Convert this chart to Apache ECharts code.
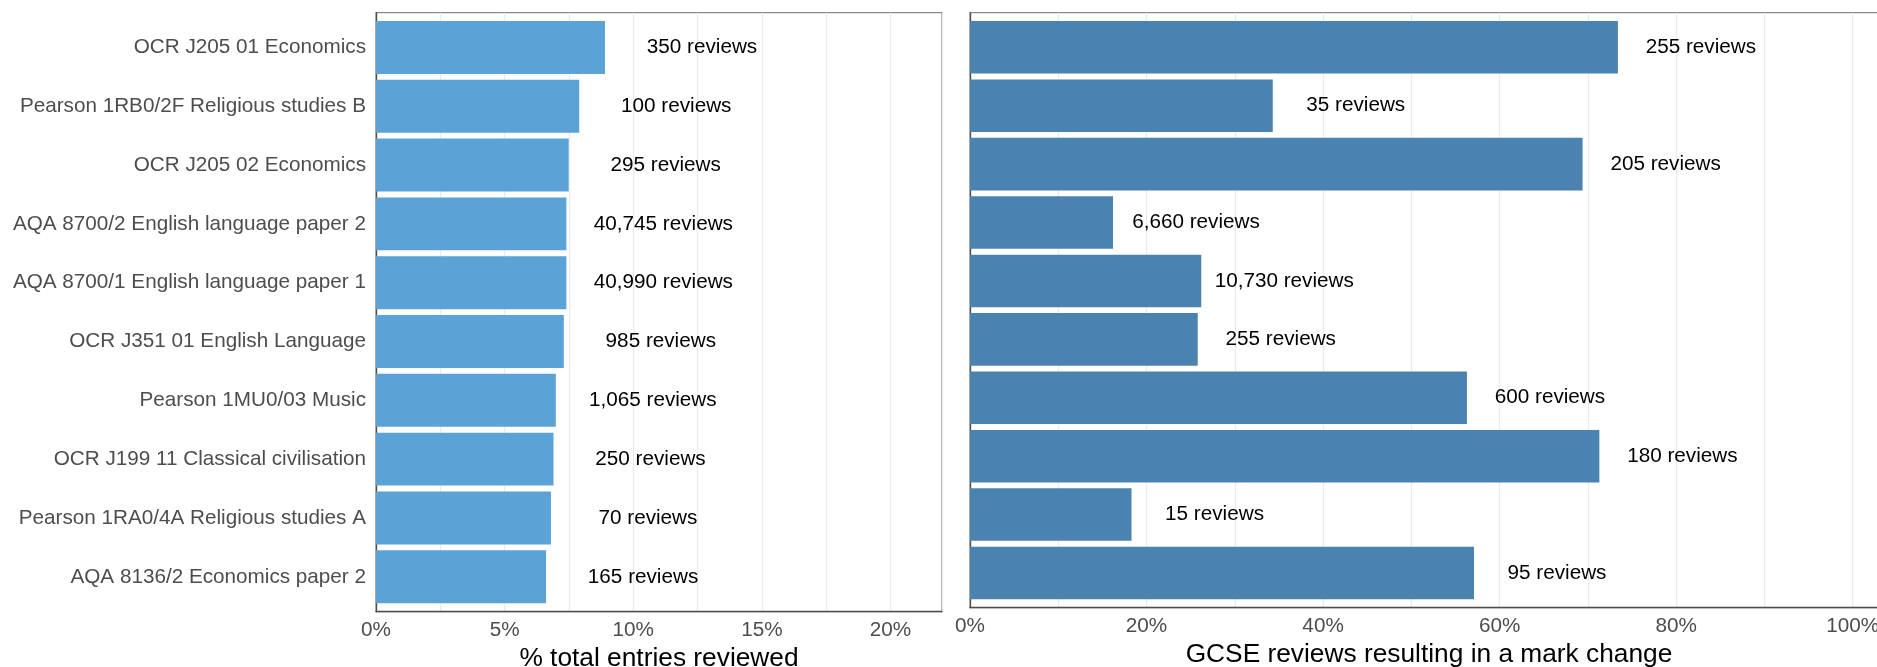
<!DOCTYPE html>
<html>
<head>
<meta charset="utf-8">
<script src="https://cdn.jsdelivr.net/npm/echarts@6/dist/echarts.min.js"></script>
<style>
html,body{margin:0;padding:0;background:#fff;}
#chart{width:1877px;height:667px;}
</style>
</head>
<body>
<div id="chart"></div>
<script>
const categories = [
  'OCR J205 01 Economics',
  'Pearson 1RB0/2F Religious studies B',
  'OCR J205 02 Economics',
  'AQA 8700/2 English language paper 2',
  'AQA 8700/1 English language paper 1',
  'OCR J351 01 English Language',
  'Pearson 1MU0/03 Music',
  'OCR J199 11 Classical civilisation',
  'Pearson 1RA0/4A Religious studies A',
  'AQA 8136/2 Economics paper 2'
];
const pctReviewed = [0.089, 0.079, 0.0749, 0.0740, 0.0740, 0.0730, 0.0699, 0.0690, 0.0680, 0.0661];
const reviewsTotal = [350, 100, 295, 40745, 40990, 985, 1065, 250, 70, 165];
const pctChanged = [0.734, 0.343, 0.694, 0.162, 0.262, 0.258, 0.563, 0.713, 0.183, 0.571];
const reviewsChanged = [255, 35, 205, 6660, 10730, 255, 600, 180, 15, 95];

const FONT = "'Liberation Sans', Helvetica, Arial, sans-serif";
const GREY_TXT = '#4d4d4d';
const FS = 20.7;
const fmtN = n => n.toLocaleString('en-US') + ' reviews';

const chart = echarts.init(document.getElementById('chart'), null, {renderer: 'canvas'});

function frameX(gridIndex, max, step, labelEvery, name) {
  return {
    type: 'value', gridIndex: gridIndex, min: 0, max: max, interval: step,
    axisLine: {show: true, lineStyle: {color: '#4d4d4d', width: 1.3}},
    axisTick: {show: false},
    splitLine: {show: true, lineStyle: {color: '#ebebeb', width: 1.3}},
    axisLabel: {
      show: true, margin: 8, color: GREY_TXT, fontSize: FS, fontFamily: FONT,
      showMaxLabel: false,
      formatter: v => {
        const k = Math.round(v * 1000);
        return (k % Math.round(labelEvery * 1000) === 0) ? Math.round(v * 100) + '%' : '';
      }
    },
    name: name, nameLocation: 'middle', nameGap: 31,
    nameTextStyle: {color: '#000', fontSize: 26.3, fontFamily: FONT}
  };
}
function frameY(gridIndex) {
  return {
    type: 'value', gridIndex: gridIndex, min: 0, max: 1,
    axisLine: {show: true, lineStyle: {color: '#4d4d4d', width: 1.3}},
    axisTick: {show: false}, axisLabel: {show: false}, splitLine: {show: false}
  };
}
function barX(gridIndex, max) {
  return {type: 'value', gridIndex: gridIndex, min: 0, max: max, show: false,
          splitLine: {show: false}};
}
function barY(gridIndex, showLabels) {
  return {
    type: 'category', gridIndex: gridIndex, data: categories, inverse: true,
    axisLine: {show: false}, axisTick: {show: false}, splitLine: {show: false},
    axisLabel: {show: showLabels, margin: 10, color: GREY_TXT, fontSize: FS, fontFamily: FONT}
  };
}

const RMAX = 1.04;
const option = {
  animation: false,
  backgroundColor: '#fff',
  grid: [
    {left: 376, width: 566, top: 12.7, height: 599, show: true, outerBoundsMode: 'none', containLabel: false,
     borderColor: '#8a8a8a', borderWidth: 1.3, backgroundColor: 'transparent'},
    {left: 970, width: 918, top: 12.7, height: 595, show: true, outerBoundsMode: 'none', containLabel: false,
     borderColor: '#8a8a8a', borderWidth: 1.3, backgroundColor: 'transparent'},
    {left: 376, width: 566, top: 18, height: 588.2, outerBoundsMode: 'none', containLabel: false},
    {left: 970, width: 918, top: 18.1, height: 584.1, outerBoundsMode: 'none', containLabel: false}
  ],
  xAxis: [
    frameX(0, 0.22, 0.025, 0.05, '% total entries reviewed'),
    frameX(1, RMAX, 0.1, 0.2, 'GCSE reviews resulting in a mark change'),
    barX(2, 0.22),
    barX(3, RMAX)
  ],
  yAxis: [
    frameY(0), frameY(1),
    barY(2, true), barY(3, false)
  ],
  series: [
    {
      type: 'bar', xAxisIndex: 2, yAxisIndex: 2, data: pctReviewed,
      barCategoryGap: '10%',
      itemStyle: {color: '#5ba3d6'},
      label: {
        show: true, position: 'right', distance: 97, align: 'center',
        color: '#000', fontSize: FS, fontFamily: FONT,
        formatter: p => fmtN(reviewsTotal[p.dataIndex])
      },
      z: 3
    },
    {
      type: 'bar', xAxisIndex: 3, yAxisIndex: 3, data: pctChanged,
      barCategoryGap: '10%',
      itemStyle: {color: '#4b83b0'},
      label: {
        show: true, position: 'right', distance: 83, align: 'center',
        color: '#000', fontSize: FS, fontFamily: FONT,
        formatter: p => fmtN(reviewsChanged[p.dataIndex])
      },
      z: 3
    }
  ]
};
chart.setOption(option);
</script>
</body>
</html>
